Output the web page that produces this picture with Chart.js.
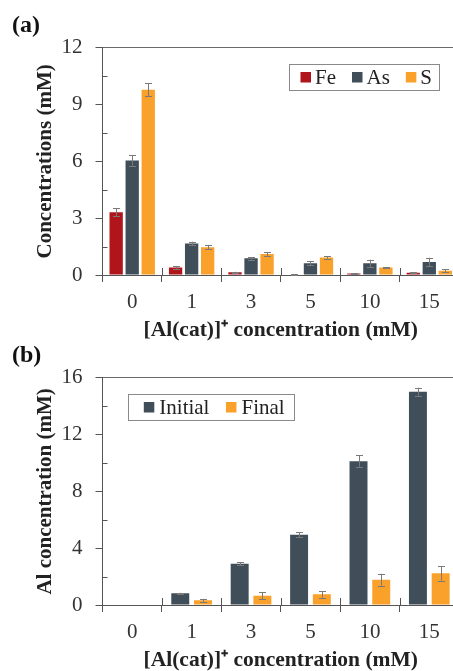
<!DOCTYPE html>
<html>
<head>
<meta charset="utf-8">
<script src="https://cdn.jsdelivr.net/npm/chart.js@4.4.1/dist/chart.umd.min.js"></script>
<style>
  html, body { margin: 0; padding: 0; background: #ffffff; overflow: hidden; width: 453px; height: 671px; }
  canvas { position: absolute; left: 0; }
  #chartA { top: 0; }
  #chartB { top: 330px; }
</style>
</head>
<body>
<canvas id="chartA" width="459" height="345"></canvas>
<canvas id="chartB" width="459" height="345"></canvas>
<script>
// ---------- data ----------
const categories = ['0', '1', '3', '5', '10', '15'];

// panel (a)
const feValues = [3.32, 0.39, 0.14, 0.02, 0.08, 0.12];
const feErrors = [0.20, 0.06, 0.03, 0.01, 0.02, 0.02];
const asValues = [6.05, 1.66, 0.88, 0.62, 0.62, 0.69];
const asErrors = [0.28, 0.10, 0.07, 0.10, 0.19, 0.22];
const sValues  = [9.78, 1.47, 1.11, 0.92, 0.39, 0.23];
const sErrors  = [0.35, 0.12, 0.10, 0.06, 0.03, 0.08];
const yTicksA = [0, 3, 6, 9, 12];

// panel (b)
const initialValues = [null, 0.82, 2.91, 4.95, 10.13, 15.02];
const initialErrors = [0, 0.04, 0.12, 0.19, 0.40, 0.28];
const finalValues   = [null, 0.33, 0.66, 0.75, 1.78, 2.23];
const finalErrors   = [0, 0.10, 0.23, 0.23, 0.42, 0.51];
const yTicksB = [0, 4, 8, 12, 16];

// ---------- style ----------
const RED = '#B1151C', SLATE = '#3F4E58', ORANGE = '#F9A12A';
const AXIS = '#555555', TEXT = '#222222';
const FAMILY = "'Liberation Serif', 'Times New Roman', serif";

// error bars drawn from the scale
const errorBarPlugin = {
  id: 'errorBars',
  afterDatasetsDraw(chart) {
    const ctx = chart.ctx, y = chart.scales.y;
    ctx.save();
    ctx.strokeStyle = '#7a7a7a';
    ctx.lineWidth = 1;
    chart.data.datasets.forEach((ds, di) => {
      const meta = chart.getDatasetMeta(di);
      if (!ds.errors) return;
      meta.data.forEach((bar, i) => {
        const v = ds.data[i], e = ds.errors[i];
        if (v === null || v === undefined || !e) return;
        const x = Math.round(bar.x) + 0.5;
        const yt = y.getPixelForValue(v + e), yb = y.getPixelForValue(Math.max(0, v - e));
        const cap = 3.5;
        ctx.beginPath();
        ctx.moveTo(x, yt); ctx.lineTo(x, yb);
        ctx.moveTo(x - cap, Math.round(yt) + 0.5); ctx.lineTo(x + cap, Math.round(yt) + 0.5);
        ctx.moveTo(x - cap, Math.round(yb) + 0.5); ctx.lineTo(x + cap, Math.round(yb) + 0.5);
        ctx.stroke();
      });
    });
    ctx.restore();
  }
};

// minor ticks on y and category separators crossing x axis
const axisMarksPlugin = {
  id: 'axisMarks',
  afterDraw(chart) {
    const ctx = chart.ctx, ys = chart.scales.y, xs = chart.scales.x, area = chart.chartArea;
    ctx.save();
    ctx.strokeStyle = AXIS;
    ctx.lineWidth = 1;
    ctx.beginPath();
    const t = ys.ticks;
    for (let i = 0; i < t.length - 1; i++) {
      const py = Math.round(ys.getPixelForValue((t[i].value + t[i + 1].value) / 2)) + 0.5;
      ctx.moveTo(area.left, py); ctx.lineTo(area.left + 5, py);
    }
    for (let i = 1; i < categories.length; i++) {
      const px = Math.round((xs.getPixelForTick(i - 1) + xs.getPixelForTick(i)) / 2) + 0.5;
      ctx.moveTo(px, area.bottom - 7); ctx.lineTo(px, area.bottom);
    }
    ctx.stroke();
    ctx.restore();
  }
};

// boxed legend inside chart area
const boxLegendPlugin = {
  id: 'boxLegend',
  afterDraw(chart, args, opts) {
    const ctx = chart.ctx, area = chart.chartArea;
    const left = area.left + opts.dx, top = area.top + opts.dy;
    const h = 26, sq = 10.5;
    ctx.save();
    ctx.font = '21px ' + FAMILY;
    ctx.textBaseline = 'middle';
    let x = left + opts.padLeft;
    const cy = top + h / 2;
    chart.data.datasets.forEach((ds, i) => {
      ctx.fillStyle = ds.backgroundColor;
      ctx.fillRect(x, Math.round(cy - sq / 2), sq, sq);
      x += sq + opts.textGap;
      ctx.fillStyle = TEXT;
      ctx.fillText(ds.label, x, cy + 1);
      x += ctx.measureText(ds.label).width;
      if (i < chart.data.datasets.length - 1) x += opts.itemGap;
    });
    x += opts.padRight;
    ctx.strokeStyle = '#8a8a8a';
    ctx.lineWidth = 1;
    ctx.strokeRect(Math.round(left) + 0.5, Math.round(top) + 0.5, Math.round(x - left), h);
    ctx.restore();
  }
};

function makeChart(id, label, datasets, tickValues, yTitle, catPct, barPct, legendOpts) {
  const yMax = tickValues[tickValues.length - 1];
  const yStep = tickValues[1] - tickValues[0];
  return new Chart(document.getElementById(id), {
    type: 'bar',
    data: { labels: categories, datasets },
    options: {
      responsive: false,
      animation: false,
      devicePixelRatio: 1,
      layout: { padding: { left: 12, top: 0, right: 0, bottom: 0 } },
      datasets: { bar: { categoryPercentage: catPct, barPercentage: barPct } },
      plugins: {
        legend: { display: false },
        tooltip: { enabled: false },
        title: {
          display: true, text: label, align: 'start', color: '#111',
          font: { family: FAMILY, size: 24, weight: 'bold', lineHeight: 1.2 },
          padding: { top: 11, bottom: 8 }
        },
        boxLegend: legendOpts
      },
      scales: {
        x: {
          afterFit(s) { s.height = 70; },
          border: { display: true, color: AXIS, width: 1 },
          grid: { offset: true, drawOnChartArea: false, drawTicks: true, tickLength: 7, color: AXIS },
          ticks: { color: '#333', padding: 8, font: { family: FAMILY, size: 21 } },
          title: {
            display: true, text: '[Al(cat)]⁺ concentration (mM)', color: TEXT,
            font: { family: FAMILY, size: 21.5, weight: 'bold', lineHeight: 1.2 },
            padding: { top: 0, bottom: 2 }
          }
        },
        y: {
          min: 0, max: yMax,
          afterFit(s) { s.width = 90.5; },
          afterBuildTicks(s) { s.ticks = tickValues.map(v => ({ value: v })); },
          border: { display: true, color: AXIS, width: 1 },
          grid: {
            drawOnChartArea: true, drawTicks: true, tickLength: 7, tickColor: AXIS,
            color: c => (c.tick && c.tick.value === yMax) ? '#6a6a6a' : 'rgba(0,0,0,0)'
          },
          ticks: { stepSize: yStep, color: '#333', padding: 13, font: { family: FAMILY, size: 21 } },
          title: {
            display: true, text: yTitle, color: TEXT,
            font: { family: FAMILY, size: 21, weight: 'bold', lineHeight: 1.2 },
            padding: { top: 21, bottom: 0 }
          }
        }
      }
    },
    plugins: [errorBarPlugin, axisMarksPlugin, boxLegendPlugin]
  });
}

makeChart('chartA', '(a)', [
  { label: 'Fe', data: feValues, errors: feErrors, backgroundColor: RED },
  { label: 'As', data: asValues, errors: asErrors, backgroundColor: SLATE },
  { label: 'S',  data: sValues,  errors: sErrors,  backgroundColor: ORANGE }
], yTicksA, 'Concentrations (mM)', 0.81, 0.83,
  { dx: 186, dy: 16.3, padLeft: 12, textGap: 4, itemGap: 16, padRight: 6 });

makeChart('chartB', '(b)', [
  { label: 'Initial', data: initialValues, errors: initialErrors, backgroundColor: SLATE },
  { label: 'Final',   data: finalValues,   errors: finalErrors,   backgroundColor: ORANGE }
], yTicksB, 'Al concentration (mM)', 0.765, 0.79,
  { dx: 25.8, dy: 16.3, padLeft: 15.5, textGap: 5, itemGap: 16.5, padRight: 9.5 });
</script>
</body>
</html>
